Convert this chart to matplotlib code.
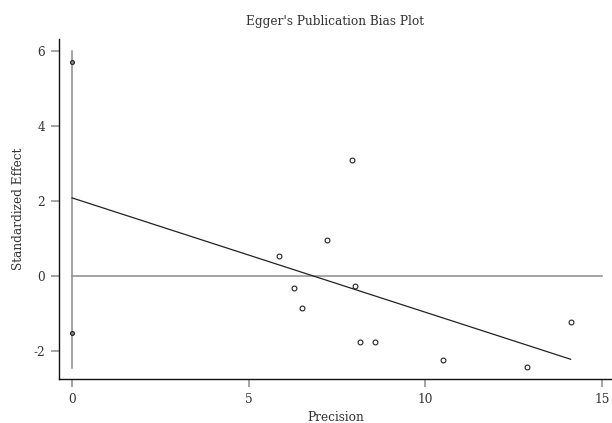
import matplotlib.pyplot as plt
import numpy as np

# study points: precision vs standardized effect
precision = [5.87, 6.27, 6.50, 7.22, 7.91, 8.00, 8.14, 8.58, 10.51, 12.87, 14.11]
std_effect = [0.54, -0.33, -0.86, 0.95, 3.10, -0.28, -1.76, -1.76, -2.25, -2.44, -1.23]

# Egger regression line and intercept CI
intercept = 2.08
slope = -0.305
ci_line = [-2.45, 6.0]
ci_marks = [-1.51, 5.71]

plt.rcParams['font.family'] = ['DejaVu Serif']
plt.rcParams['axes.unicode_minus'] = False

fig = plt.figure(figsize=(6.12, 4.23), dpi=100)
ax = fig.add_axes([0.0964, 0.104, 0.9036, 0.804])

gray = '#8c8c8c'
txt = '#333333'

ax.plot([0, 15], [0, 0], color=gray, lw=1.1)
ax.plot([0, 0], ci_line, color=gray, lw=1.1)
ax.scatter([0, 0], ci_marks, s=8, facecolor='#888888', edgecolor='#222222', lw=0.8, zorder=3)

xs = np.array([0, max(precision)])
ax.plot(xs, intercept + slope * xs, color='#222222', lw=0.9)

ax.scatter(precision, std_effect, s=12, facecolor='white', edgecolor='#222222', lw=0.8, zorder=3)

ax.set_xlim(-0.37, 15.28)
ax.set_ylim(-2.75, 6.32)
ax.set_xticks([0, 5, 10, 15])
ax.set_yticks([-2, 0, 2, 4, 6])

for s in ['top', 'right']:
    ax.spines[s].set_visible(False)
for s in ['left', 'bottom']:
    ax.spines[s].set_color('#111111')
    ax.spines[s].set_linewidth(1.0)

ax.tick_params(length=6, width=1.1, color=gray, labelsize=8.7, labelcolor=txt, pad=4)

ax.set_title("Egger's Publication Bias Plot", fontsize=8.7, color=txt, pad=10)
ax.set_xlabel("Precision", fontsize=8.7, color=txt, labelpad=4)
ax.set_ylabel("Standardized Effect", fontsize=8.7, color=txt, labelpad=6)

fig.savefig("out.png", dpi=100)
